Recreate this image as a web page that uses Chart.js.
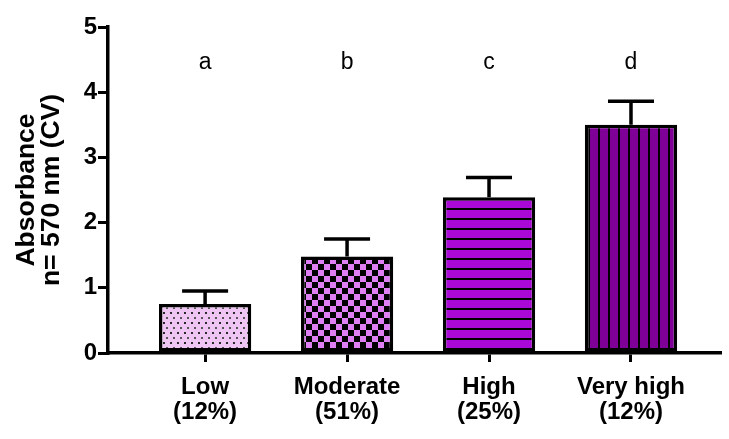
<!DOCTYPE html>
<html>
<head>
<meta charset="utf-8">
<script src="https://cdn.jsdelivr.net/npm/chart.js@4/dist/chart.umd.min.js"></script>
<style>
  html, body { margin: 0; padding: 0; background: #ffffff; }
  #wrap { width: 729px; height: 439px; }
</style>
</head>
<body>
<div id="wrap"><canvas id="c" width="729" height="439"></canvas></div>
<script>
// ---- data ----
const categories = ['Low', 'Moderate', 'High', 'Very high'];
const shares = ['(12%)', '(51%)', '(25%)', '(12%)'];
const means = [0.75, 1.48, 2.39, 3.50];
const sdUpper = [0.20, 0.27, 0.30, 0.36];
const letters = ['a', 'b', 'c', 'd'];
const yTicks = [0, 1, 2, 3, 4, 5];
const yTitle = ['Absorbance', 'n= 570 nm (CV)'];

// ---- patterns ----
function makePattern(w, h, draw) {
  const c = document.createElement('canvas');
  c.width = w; c.height = h;
  const g = c.getContext('2d');
  draw(g, w, h);
  return document.getElementById('c').getContext('2d').createPattern(c, 'repeat');
}
const patDots = makePattern(7, 10, (g, w, h) => {
  g.fillStyle = '#efc6f3'; g.fillRect(0, 0, w, h);
  g.fillStyle = '#2a2a2a';
  g.fillRect(2, 2, 2, 2);
  g.fillStyle = '#555555';
  g.fillRect(5, 7, 2, 2);
});
const patChecker = makePattern(12, 12, (g, w, h) => {
  g.fillStyle = '#000000'; g.fillRect(0, 0, w, h);
  g.fillStyle = '#de7ff4';
  g.fillRect(0, 0, 6, 6);
  g.fillRect(6, 6, 6, 6);
});
const patHoriz = makePattern(10, 10, (g, w, h) => {
  g.fillStyle = '#aa08d6'; g.fillRect(0, 0, w, h);
  g.fillStyle = '#000000'; g.fillRect(0, 8, w, 2);
});
const patVert = makePattern(10, 10, (g, w, h) => {
  g.fillStyle = '#7e0097'; g.fillRect(0, 0, w, h);
  g.fillStyle = '#000000'; g.fillRect(8, 0, 2, h);
});
const fills = [patDots, patChecker, patHoriz, patVert];

const FONT = "'Liberation Sans', Arial, sans-serif";

// error bars + letters
const extras = {
  id: 'extras',
  afterDatasetsDraw(chart) {
    const ctx = chart.ctx;
    const meta = chart.getDatasetMeta(0);
    const ys = chart.scales.y;
    ctx.save();
    ctx.strokeStyle = '#000';
    ctx.lineWidth = 3.5;
    meta.data.forEach((bar, i) => {
      const x = bar.x;
      const y0 = ys.getPixelForValue(means[i]);
      const y1 = ys.getPixelForValue(means[i] + sdUpper[i]);
      ctx.beginPath();
      ctx.moveTo(x, y0);
      ctx.lineTo(x, y1);
      ctx.moveTo(x - 23, y1);
      ctx.lineTo(x + 23, y1);
      ctx.stroke();
      ctx.fillStyle = '#000';
      ctx.font = "23px " + FONT;
      ctx.textAlign = 'center';
      ctx.textBaseline = 'middle';
      ctx.fillText(letters[i], x, ys.getPixelForValue(4.46));
    });
    ctx.restore();
  }
};

new Chart(document.getElementById('c'), {
  type: 'bar',
  data: {
    datasets: [{
      data: categories.map((c, i) => ({ x: i, y: means[i] })),
      backgroundColor: fills,
      borderColor: '#000000',
      borderWidth: 3.5,
      borderSkipped: false,
      barPercentage: 0.65,
      categoryPercentage: 1.0
    }]
  },
  options: {
    responsive: false,
    animation: false,
    devicePixelRatio: 1,
    layout: { padding: { left: 0, right: 9, top: 27, bottom: 0 } },
    plugins: { legend: { display: false }, tooltip: { enabled: false } },
    scales: {
      x: {
        type: 'linear',
        offset: false,
        min: -0.684,
        max: 3.627,
        afterBuildTicks: (s) => { s.ticks = categories.map((c, i) => ({ value: i })); },
        afterFit: (s) => { s.height = 86; },
        ticks: {
          autoSkip: false,
          maxRotation: 0,
          color: '#000',
          padding: 13,
          font: { family: FONT, size: 24, weight: 'bold', lineHeight: 1.05 },
          callback: (v) => [categories[v], shares[v]]
        },
        grid: { display: true, offset: false, drawOnChartArea: false, drawTicks: true, tickLength: 9, color: '#000', lineWidth: 3 },
        border: { display: true, color: '#000', width: 3.5 }
      },
      y: {
        min: 0,
        max: 5,
        afterBuildTicks: (s) => { s.ticks = yTicks.map(v => ({ value: v })); },
        afterFit: (s) => { s.width = 108; },
        ticks: {
          color: '#000',
          padding: 1,
          font: { family: FONT, size: 24, weight: 'bold' }
        },
        grid: { display: true, drawOnChartArea: false, drawTicks: true, tickLength: 10, color: '#000', lineWidth: 3 },
        border: { display: true, color: '#000', width: 3.5 },
        title: {
          display: true,
          text: yTitle,
          color: '#000',
          padding: { top: 14, bottom: 0 },
          font: { family: FONT, size: 26.5, weight: 'bold', lineHeight: 0.95 }
        }
      }
    }
  },
  plugins: [extras]
});
</script>
</body>
</html>
